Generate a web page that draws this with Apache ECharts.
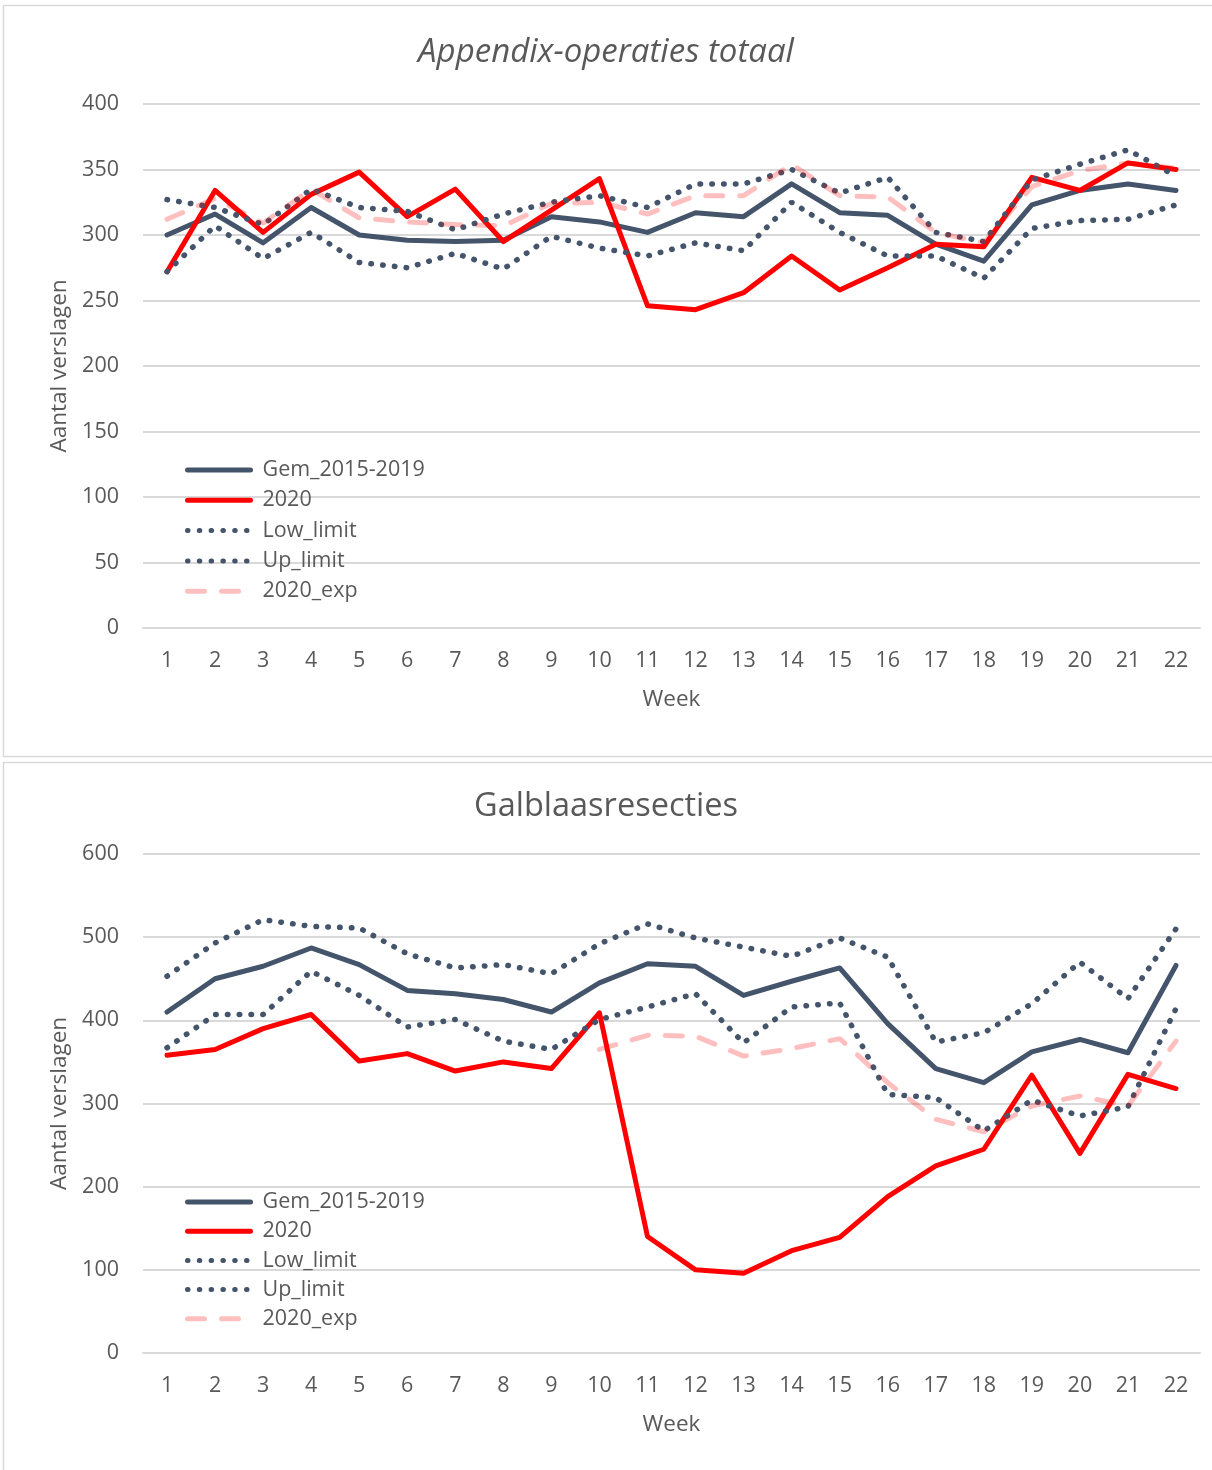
<!DOCTYPE html>
<html>
<head>
<meta charset="utf-8">
<script src="https://cdn.jsdelivr.net/npm/echarts@6/dist/echarts.min.js"></script>
<style>
html,body{margin:0;padding:0;background:#fff;}
#main{width:1212px;height:1470px;}
</style>
</head>
<body>
<div id="main"></div>
<script>
// ---- Data ----
var weeks = ['1','2','3','4','5','6','7','8','9','10','11','12','13','14','15','16','17','18','19','20','21','22'];
var seriesNames = ['Gem_2015-2019', '2020', 'Low_limit', 'Up_limit', '2020_exp'];

// Chart 1: Appendix-operaties totaal
var appTitle = 'Appendix-operaties totaal';
var appGem  = [300, 316, 294, 321, 300, 296, 295, 296, 314, 310, 302, 317, 314, 339, 317, 315, 293, 280, 323, 334, 339, 334];
var app2020 = [272, 334, 302, 331, 348, 314, 335, 295, 319, 343, 246, 243, 256, 284, 258, 275, 293, 291, 344, 334, 355, 350];
var appLow  = [272, 307, 282, 302, 279, 275, 286, 274, 299, 290, 284, 294, 288, 325, 302, 284, 284, 267, 305, 311, 312, 323];
var appUp   = [327, 321, 308, 335, 321, 318, 304, 316, 325, 330, 321, 339, 339, 350, 332, 344, 302, 295, 342, 354, 365, 345];
var appExp  = [312, 328, 309, 335, 313, 310, 308, 307, 324, 325, 316, 330, 330, 354, 330, 329, 302, 294, 337, 349, 355, 351];
var appYTicks = {min: 0, max: 400, interval: 50};

// Chart 2: Galblaasresecties
var galTitle = 'Galblaasresecties';
var galGem  = [410, 450, 465, 487, 467, 436, 432, 425, 410, 445, 468, 465, 430, 447, 463, 396, 342, 325, 362, 377, 361, 466];
var gal2020 = [358, 365, 390, 407, 351, 360, 339, 350, 342, 409, 140, 100, 96, 123, 139, 188, 225, 245, 334, 240, 335, 318];
var galLow  = [367, 407, 407, 459, 430, 392, 401, 375, 365, 401, 416, 432, 373, 416, 421, 311, 307, 267, 304, 285, 296, 414];
var galUp   = [453, 493, 521, 513, 511, 480, 463, 467, 456, 492, 516, 499, 488, 477, 499, 476, 374, 385, 420, 470, 426, 510];
var galExp  = [null, null, null, null, null, null, null, null, null, 365, 382, 381, 357, 366, 378, 325, 281, 266, 297, 309, 297, 375];
var galYTicks = {min: 0, max: 600, interval: 100};

var axisName = 'Aantal verslagen';
var xName = 'Week';

// ---- Styles ----
var FONT = 'Open Sans';
var TXT = '#595959';
var GRID = '#D9D9D9';
var DARK = '#44546A';
var LW = 5;

function lineSeries(name, data, idx) {
  var base = {
    name: name, type: 'line', data: data,
    xAxisIndex: idx, yAxisIndex: idx,
    symbol: 'none', showSymbol: false, smooth: false, connectNulls: false,
    animation: false
  };
  if (name === 'Gem_2015-2019') {
    base.lineStyle = {color: DARK, width: LW, cap: 'round', join: 'round'};
    base.itemStyle = {color: DARK};
  } else if (name === '2020') {
    base.lineStyle = {color: '#FF0000', width: LW, cap: 'round', join: 'round'};
    base.itemStyle = {color: '#FF0000'};
  } else if (name === 'Low_limit' || name === 'Up_limit') {
    base.lineStyle = {color: DARK, width: 5.5, type: [0.5, 11.3], cap: 'round'};
    base.itemStyle = {color: DARK};
  } else {
    base.lineStyle = {color: 'rgba(255,0,0,0.25)', width: LW, type: [17, 17], cap: 'round'};
    base.itemStyle = {color: 'rgba(255,0,0,0.25)'};
  }
  return base;
}

function yAxis(idx, ticks) {
  return {
    type: 'value', gridIndex: idx,
    min: ticks.min, max: ticks.max, interval: ticks.interval,
    name: axisName, nameLocation: 'middle', nameGap: 70, nameRotate: 90,
    nameTextStyle: {fontFamily: FONT, fontSize: 22.5, color: TXT},
    axisLine: {show: false}, axisTick: {show: false},
    axisLabel: {fontFamily: FONT, fontSize: 21.5, color: TXT, margin: 24},
    splitLine: {lineStyle: {color: GRID, width: 2}}
  };
}

function xAxis(idx) {
  return {
    type: 'category', gridIndex: idx, data: weeks, boundaryGap: true,
    name: xName, nameLocation: 'middle', nameGap: 60,
    nameTextStyle: {fontFamily: FONT, fontSize: 22.5, color: TXT},
    axisLine: {show: true, lineStyle: {color: GRID, width: 2}},
    axisTick: {show: false},
    axisLabel: {fontFamily: FONT, fontSize: 21.5, color: TXT, margin: 22, interval: 0}
  };
}

function legend(top, gap) {
  return {
    orient: 'vertical', left: 185, top: top,
    data: seriesNames, itemWidth: 63, itemHeight: 14, itemGap: gap,
    padding: 0, selectedMode: false,
    itemStyle: {opacity: 0},
    lineStyle: {width: 5},
    textStyle: {fontFamily: FONT, fontSize: 21.5, color: TXT, lineHeight: 22, padding: [0, 0, 0, 7]}
  };
}

var chart = echarts.init(document.getElementById('main'), null, {renderer: 'canvas'});
var option = {
  backgroundColor: '#ffffff',
  animation: false,
  graphic: [
    {type: 'rect', z: -10, shape: {x: 3.5, y: 5.5, width: 1230, height: 751}, style: {fill: '#fff', stroke: GRID, lineWidth: 1.5}},
    {type: 'rect', z: -10, shape: {x: 3.5, y: 762.5, width: 1230, height: 730}, style: {fill: '#fff', stroke: GRID, lineWidth: 1.5}}
  ],
  title: [
    {text: appTitle, left: 'center', top: 34, padding: [0, 0, 0, 10],
     textStyle: {fontFamily: FONT, fontSize: 33, fontWeight: 'normal', fontStyle: 'italic', color: TXT, lineHeight: 38}},
    {text: galTitle, left: 'center', top: 788, padding: [0, 0, 0, 10],
     textStyle: {fontFamily: FONT, fontSize: 32.5, fontWeight: 'normal', color: TXT, lineHeight: 38}}
  ],
  legend: [legend(459, 8.3), legend(1191, 7.2)],
  grid: [
    {left: 143, top: 104, width: 1057, height: 524},
    {left: 143, top: 854, width: 1057, height: 499}
  ],
  xAxis: [xAxis(0), xAxis(1)],
  yAxis: [yAxis(0, appYTicks), yAxis(1, galYTicks)],
  series: [
    lineSeries(seriesNames[0], appGem, 0),
    lineSeries(seriesNames[1], app2020, 0),
    lineSeries(seriesNames[2], appLow, 0),
    lineSeries(seriesNames[3], appUp, 0),
    lineSeries(seriesNames[4], appExp, 0),
    lineSeries(seriesNames[0], galGem, 1),
    lineSeries(seriesNames[1], gal2020, 1),
    lineSeries(seriesNames[2], galLow, 1),
    lineSeries(seriesNames[3], galUp, 1),
    lineSeries(seriesNames[4], galExp, 1)
  ]
};
chart.setOption(option);
</script>
</body>
</html>
